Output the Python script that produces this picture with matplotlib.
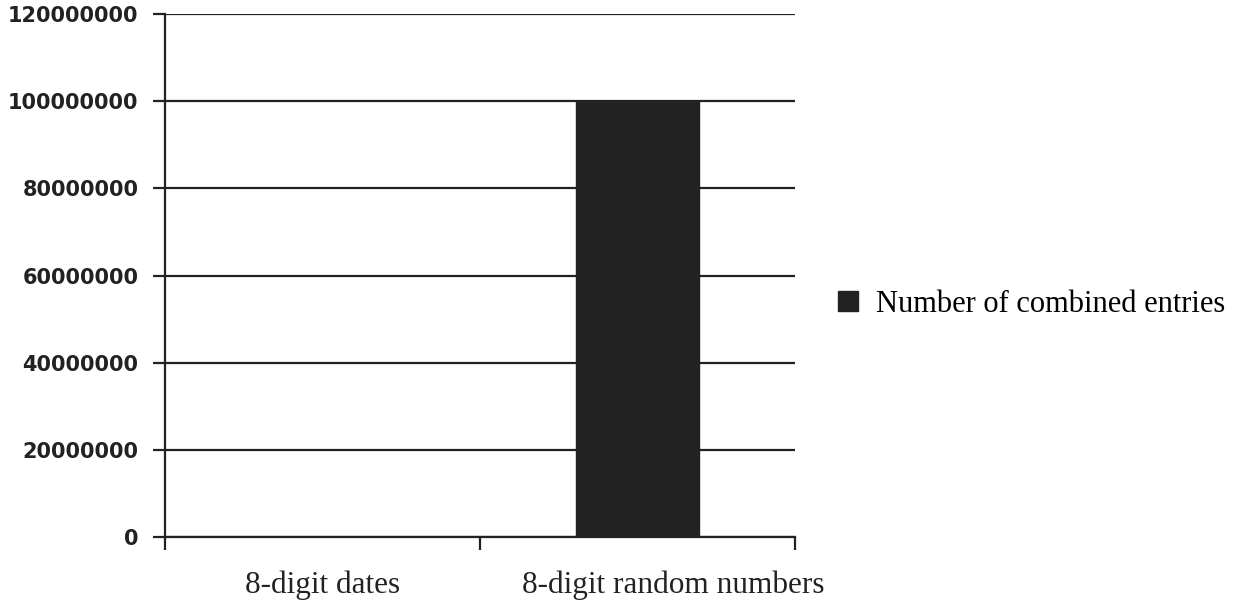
import matplotlib

matplotlib.use("Agg")

import numpy as np
import matplotlib.pyplot as plt
from matplotlib.transforms import ScaledTranslation

# Data
categories = ["8-digit dates", "8-digit random numbers"]
combined_entries = [36525, 100000000]
series_name = "Number of combined entries"
y_ticks = [0, 20000000, 40000000, 60000000, 80000000, 100000000, 120000000]

fig = plt.figure(figsize=(12.39, 6.03), dpi=100)
ax = fig.add_axes([0.133, 0.109, 0.509, 0.868])

x = np.arange(len(categories))
ax.bar(x, combined_entries, width=0.39, color="#222222", edgecolor="#222222",
       label=series_name, zorder=3)

ax.set_xlim(-0.5, len(categories) - 0.5)
ax.set_ylim(0, 120000000)

# horizontal gridlines
ax.set_yticks(y_ticks)
ax.set_yticklabels([str(v) for v in y_ticks], fontsize=15, fontweight="bold",
                   color="#222222")
ax.yaxis.grid(True, color="#222222", linewidth=1.6)
ax.tick_params(axis="y", length=9, width=1.6, color="#222222", pad=10)

# category boundaries as major ticks, labels on minor ticks
ax.set_xticks(np.arange(len(categories) + 1) - 0.5)
ax.set_xticklabels([])
ax.set_xticks(x, minor=True)
ax.set_xticklabels(categories, minor=True, fontsize=22.5,
                   family="Liberation Serif", color="#222222")
ax.tick_params(axis="x", which="major", length=9, width=1.6, color="#222222")
ax.tick_params(axis="x", which="minor", length=0, pad=24)
lbls = ax.get_xticklabels(minor=True)
lbls[1].set_transform(lbls[1].get_transform() +
                      ScaledTranslation(0.35, 0, fig.dpi_scale_trans))

for s in ["top", "right"]:
    ax.spines[s].set_visible(False)
ax.spines["left"].set_linewidth(1.6)
ax.spines["bottom"].set_linewidth(1.6)
ax.spines["left"].set_color("#222222")
ax.spines["bottom"].set_color("#222222")

fig.legend(loc="center left", bbox_to_anchor=(0.6715, 0.495), frameon=False,
           prop={"family": "Liberation Serif", "size": 22},
           handlelength=0.65, handleheight=0.65, handletextpad=0.6,
           borderpad=0.2, borderaxespad=0)

fig.savefig("out.png", dpi=100)
